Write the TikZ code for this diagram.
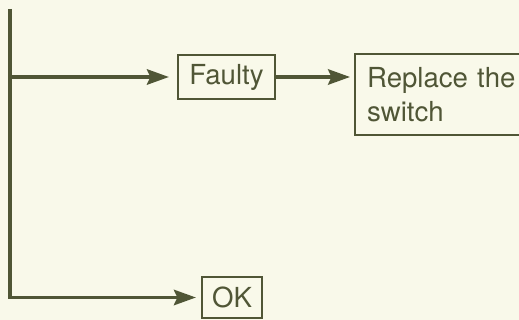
\documentclass[tikz,border=0pt]{standalone}
\usepackage{fontspec}
\setmainfont{TeX Gyre Heros}
\usetikzlibrary{arrows.meta, positioning}
\definecolor{ink}{RGB}{80,86,54}
\definecolor{paper}{RGB}{249,249,234}

\begin{document}
\begin{tikzpicture}[x=0.02cm, y=-0.02cm,
  box/.style={rectangle, draw=ink, line width=1.3pt, text=ink, font=\fontsize{15.7}{19.4}\selectfont, inner sep=0pt},
  arr/.style={-{Stealth[length=4.4mm, width=3.1mm, inset=0.7mm]}, draw=ink, line width=1.8pt}]
\useasboundingbox (0,0) rectangle (519,320);
\fill[paper] (0,0) rectangle (519,320);
\clip (0,0) rectangle (519,320);
\node[box, minimum width=1.94cm, minimum height=0.88cm] (faulty) at (226.5,77) {Faulty};
\node[box, anchor=west, text width=3.64cm, align=left, inner xsep=0.24cm, minimum height=1.62cm] (replace) at (354,94.5) {Replace the\\switch};
\node[box, minimum width=1.2cm, minimum height=0.82cm] (ok) at (232,297.5) {OK};
\coordinate (top) at (10,9);
\coordinate (branch) at (10,77);

\draw[arr, shorten >=0.16cm] (branch) -- (faulty);
\draw[arr, shorten >=0.08cm] (faulty.east) -- (faulty.east -| replace.west);
\draw[arr, shorten >=0.1cm] (top) |- (ok);
\end{tikzpicture}
\end{document}
